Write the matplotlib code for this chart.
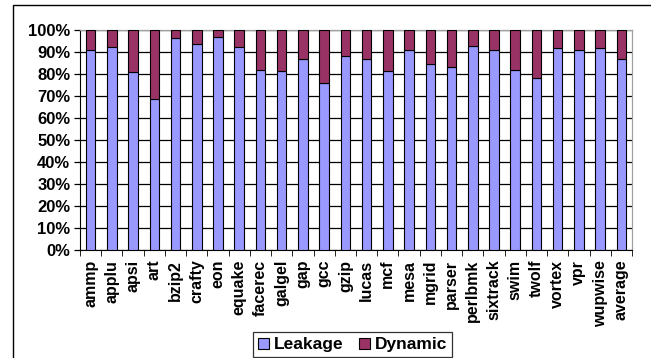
import matplotlib
matplotlib.use("Agg")
import matplotlib.pyplot as plt
from matplotlib.patches import Rectangle
import numpy as np

benchmarks = ["ammp", "applu", "apsi", "art", "bzip2", "crafty", "eon", "equake",
              "facerec", "galgel", "gap", "gcc", "gzip", "lucas", "mcf", "mesa",
              "mgrid", "parser", "perlbmk", "sixtrack", "swim", "twolf", "vortex",
              "vpr", "wupwise", "average"]
leakage = [91.0, 92.5, 81.0, 68.5, 96.3, 93.5, 97.0, 92.5, 82.0, 81.5, 87.0,
           76.0, 88.0, 86.7, 81.5, 91.0, 84.5, 83.0, 92.7, 91.0, 82.0, 78.3,
           92.0, 91.0, 92.0, 86.7]
dynamic = [100 - v for v in leakage]
yticks = list(range(0, 101, 10))
series_names = ["Leakage", "Dynamic"]
colors = ["#9999FF", "#993366"]

plt.rcParams["font.family"] = ["Liberation Sans", "DejaVu Sans"]
plt.rcParams["font.weight"] = "bold"

fig = plt.figure(figsize=(6.51, 3.58), dpi=100)
ax = fig.add_axes([80 / 651, 1 - 250 / 358, 552 / 651, 220 / 358])

x = np.arange(len(benchmarks))
ax.bar(x, leakage, width=0.45, color=colors[0], edgecolor="black", linewidth=0.8,
       label=series_names[0], zorder=3)
ax.bar(x, dynamic, width=0.45, bottom=leakage, color=colors[1], edgecolor="black",
       linewidth=0.8, label=series_names[1], zorder=3)

ax.set_xlim(-0.5, len(benchmarks) - 0.5)
ax.set_ylim(0, 100)
ax.set_yticks(yticks)
ax.set_yticklabels([f"{t}%" for t in yticks], fontsize=12, fontweight="bold")
ax.yaxis.grid(True, color="black", linewidth=0.9, zorder=0)

ax.set_xticks(x)
ax.set_xticklabels(benchmarks, rotation=90, fontsize=11.5, fontweight="bold")
ax.tick_params(axis="x", length=0, pad=7)
ax.set_xticks(np.arange(-0.5, len(benchmarks)), minor=True)
ax.tick_params(axis="x", which="minor", length=4, direction="out", color="black")
ax.tick_params(axis="y", length=4, direction="out", color="black", width=0.9, pad=3)

for side in ["top", "right"]:
    ax.spines[side].set_color("#A0A0A0")
    ax.spines[side].set_linewidth(0.9)
ax.spines["left"].set_color("black")
ax.spines["bottom"].set_color("black")

# outer chart frame
fig.patches.append(Rectangle((13 / 651, -0.02), 1.0, 1 - 5 / 358 + 0.02,
                             transform=fig.transFigure, fill=False,
                             edgecolor="black", linewidth=1.0))

leg = fig.legend(loc="upper left", bbox_to_anchor=(253 / 651, 1 - 332 / 358), ncol=2,
                 frameon=True, fancybox=False, edgecolor="black",
                 prop={"weight": "bold", "size": 12.5}, handlelength=0.6,
                 handleheight=0.6, handletextpad=0.3, columnspacing=0.9,
                 borderpad=0.3, borderaxespad=0)
leg.get_frame().set_linewidth(0.9)
for h in leg.legend_handles:
    h.set_edgecolor("black")

fig.savefig("out.png", dpi=100)
